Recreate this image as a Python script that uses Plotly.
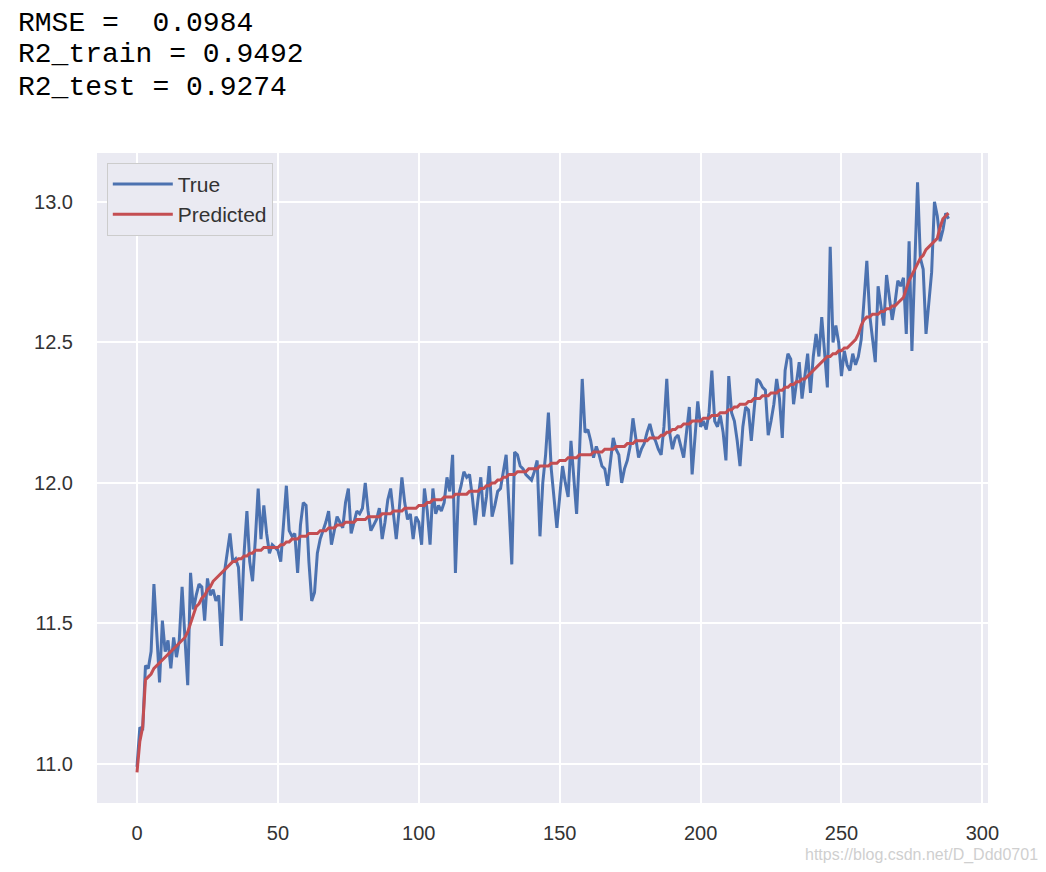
import plotly.graph_objects as go

# metrics printed above the chart
rmse = "0.0984"
r2_train = "0.9492"
r2_test = "0.9274"

# observed values (sorted by prediction)
y_true = [
    10.99, 11.13, 11.12, 11.35, 11.34, 11.40, 11.64, 11.45, 11.29, 11.51,
    11.40, 11.44, 11.34, 11.45, 11.38, 11.44, 11.63, 11.45, 11.28, 11.68,
    11.55, 11.60, 11.64, 11.63, 11.51, 11.66, 11.60, 11.62, 11.58, 11.60,
    11.42, 11.68, 11.75, 11.82, 11.72, 11.73, 11.70, 11.51, 11.75, 11.90,
    11.72, 11.65, 11.80, 11.98, 11.80, 11.92, 11.82, 11.75, 11.78, 11.77,
    11.76, 11.72, 11.85, 11.99, 11.83, 11.81, 11.82, 11.68, 11.85, 11.93,
    11.92, 11.72, 11.58, 11.61, 11.75, 11.80, 11.83, 11.86, 11.90, 11.78,
    11.83, 11.88, 11.86, 11.84, 11.93, 11.98, 11.82, 11.86, 11.90, 11.89,
    11.91, 12.00, 11.90, 11.83, 11.85, 11.87, 11.91, 11.80, 11.86, 11.94,
    11.98, 11.88, 11.80, 11.90, 12.02, 11.93, 11.87, 11.89, 11.80, 11.88,
    11.86, 11.78, 11.98, 11.90, 11.78, 11.98, 11.89, 11.92, 11.90, 11.93,
    12.02, 11.97, 12.10, 11.68, 11.95, 11.99, 12.04, 12.02, 12.03, 11.95,
    11.85, 11.94, 12.02, 11.88, 11.95, 12.06, 11.88, 11.92, 11.97, 11.98,
    12.04, 12.10, 11.92, 11.71, 12.11, 12.10, 12.06, 12.05, 12.03, 12.02,
    12.01, 12.04, 12.08, 11.81, 12.00, 12.10, 12.25, 12.05, 11.95, 11.84,
    11.95, 12.06, 12.00, 11.95, 12.15, 12.02, 11.89, 12.10, 12.37, 12.18,
    12.19, 12.15, 12.09, 12.13, 12.10, 12.06, 12.05, 11.99, 12.08, 12.16,
    12.12, 12.10, 12.00, 12.05, 12.08, 12.13, 12.23, 12.15, 12.09, 12.12,
    12.14, 12.18, 12.21, 12.17, 12.15, 12.12, 12.10, 12.20, 12.37, 12.18,
    12.12, 12.16, 12.17, 12.13, 12.09, 12.18, 12.27, 12.03, 12.15, 12.29,
    12.20, 12.22, 12.19, 12.25, 12.40, 12.22, 12.20, 12.24, 12.18, 12.08,
    12.38, 12.25, 12.22, 12.15, 12.06, 12.20, 12.27, 12.26, 12.15, 12.25,
    12.37, 12.36, 12.34, 12.33, 12.17, 12.22, 12.28, 12.37, 12.30, 12.16,
    12.40, 12.46, 12.44, 12.28, 12.36, 12.43, 12.30, 12.38, 12.46, 12.32,
    12.45, 12.53, 12.45, 12.59, 12.45, 12.34, 12.84, 12.50, 12.56, 12.50,
    12.38, 12.47, 12.42, 12.40, 12.46, 12.42, 12.45, 12.51, 12.65, 12.79,
    12.60, 12.52, 12.43, 12.70, 12.62, 12.56, 12.74, 12.65, 12.58, 12.64,
    12.72, 12.70, 12.73, 12.53, 12.86, 12.47, 12.75, 13.07, 12.80, 12.76,
    12.53, 12.65, 12.75, 13.00, 12.95, 12.86, 12.90, 12.96, 12.94,
]

# model predictions
y_pred = [
    10.97, 11.08, 11.13, 11.30, 11.31, 11.32, 11.34, 11.35, 11.36, 11.37,
    11.38, 11.39, 11.40, 11.41, 11.42, 11.43, 11.44, 11.45, 11.47, 11.50,
    11.53, 11.56, 11.57, 11.59, 11.60, 11.62, 11.63, 11.65, 11.66, 11.67,
    11.68, 11.69, 11.70, 11.71, 11.72, 11.72, 11.73, 11.73, 11.74, 11.74,
    11.75, 11.75, 11.76, 11.76, 11.76, 11.77, 11.77, 11.77, 11.77, 11.77,
    11.77, 11.78, 11.78, 11.79, 11.79, 11.80, 11.80, 11.80, 11.81, 11.81,
    11.81, 11.82, 11.82, 11.82, 11.82, 11.83, 11.83, 11.83, 11.84, 11.84,
    11.84, 11.85, 11.85, 11.85, 11.86, 11.86, 11.86, 11.86, 11.87, 11.87,
    11.87, 11.87, 11.88, 11.88, 11.88, 11.88, 11.88, 11.89, 11.89, 11.89,
    11.89, 11.90, 11.90, 11.90, 11.90, 11.91, 11.91, 11.91, 11.91, 11.91,
    11.92, 11.92, 11.92, 11.93, 11.93, 11.94, 11.94, 11.94, 11.94, 11.95,
    11.95, 11.95, 11.95, 11.96, 11.96, 11.96, 11.96, 11.96, 11.97, 11.97,
    11.97, 11.97, 11.98, 11.98, 11.99, 11.99, 12.00, 12.00, 12.01, 12.01,
    12.02, 12.02, 12.03, 12.03, 12.03, 12.04, 12.04, 12.04, 12.04, 12.05,
    12.05, 12.05, 12.05, 12.06, 12.06, 12.06, 12.06, 12.07, 12.07, 12.07,
    12.08, 12.08, 12.08, 12.09, 12.09, 12.09, 12.09, 12.10, 12.10, 12.10,
    12.10, 12.10, 12.11, 12.11, 12.11, 12.11, 12.12, 12.12, 12.12, 12.12,
    12.13, 12.13, 12.13, 12.13, 12.14, 12.14, 12.14, 12.15, 12.15, 12.15,
    12.15, 12.15, 12.16, 12.16, 12.16, 12.16, 12.17, 12.17, 12.18, 12.18,
    12.19, 12.19, 12.20, 12.20, 12.21, 12.21, 12.21, 12.22, 12.22, 12.22,
    12.22, 12.23, 12.23, 12.23, 12.24, 12.24, 12.24, 12.25, 12.25, 12.25,
    12.26, 12.26, 12.27, 12.27, 12.28, 12.28, 12.28, 12.29, 12.29, 12.30,
    12.30, 12.30, 12.31, 12.31, 12.31, 12.32, 12.32, 12.32, 12.33, 12.33,
    12.34, 12.34, 12.35, 12.35, 12.36, 12.36, 12.37, 12.37, 12.38, 12.39,
    12.40, 12.41, 12.42, 12.43, 12.44, 12.45, 12.45, 12.46, 12.46, 12.47,
    12.47, 12.48, 12.48, 12.49, 12.50, 12.51, 12.53, 12.56, 12.58, 12.59,
    12.59, 12.60, 12.60, 12.60, 12.61, 12.61, 12.62, 12.62, 12.63, 12.63,
    12.64, 12.65, 12.66, 12.69, 12.72, 12.74, 12.76, 12.78, 12.80, 12.81,
    12.83, 12.84, 12.85, 12.86, 12.87, 12.91, 12.94, 12.95, 12.96,
]

x_ticks = [0, 50, 100, 150, 200, 250, 300]
y_ticks = [11.0, 11.5, 12.0, 12.5, 13.0]

fig = go.Figure()
fig.add_trace(go.Scatter(x=list(range(len(y_true))), y=y_true, mode="lines",
                         name="True", legendgroup="t",
                         line=dict(color="#4C72B0", width=3)))
fig.add_trace(go.Scatter(x=list(range(len(y_pred))), y=y_pred, mode="lines",
                         name="Predicted", legendgroup="p",
                         line=dict(color="#C44E52", width=3)))

nb = "\u00a0"
header_lines = [f"RMSE{nb}={nb}{nb}{rmse}",
                f"R2_train{nb}={nb}{r2_train}",
                f"R2_test{nb}={nb}{r2_test}"]
header_y = [1.1985, 1.1523, 1.1015]

mono = dict(family="Liberation Mono, Courier New, monospace", size=28, color="black")
notes = [dict(text=t, xref="paper", yref="paper", x=-0.091, y=yy,
              xanchor="left", yanchor="middle", showarrow=False, font=mono)
         for t, yy in zip(header_lines, header_y)]
notes.append(dict(text="https://blog.csdn.net/D_Ddd0701", xref="paper", yref="paper",
                  x=1.058, y=-0.08, xanchor="right", yanchor="middle",
                  showarrow=False, font=dict(size=16, color="#CFCFCF")))

fig.update_layout(
    width=1046, height=872,
    margin=dict(l=89, r=66, t=145, b=77),
    paper_bgcolor="white",
    plot_bgcolor="#EAEAF2",
    font=dict(family="Liberation Sans, Arial, sans-serif", size=20, color="#333333"),
    legend=dict(x=0.011, y=0.985, xanchor="left", yanchor="top",
                bgcolor="#EAEAF2", bordercolor="#CCCCCC", borderwidth=1,
                itemwidth=60, tracegroupgap=0,
                font=dict(size=21, color="#333333")),
    xaxis=dict(range=[-14.2, 302], tickvals=x_ticks, showgrid=True,
               gridcolor="white", gridwidth=1.5, zeroline=False,
               showline=False, ticks="", ticklabelstandoff=16),
    yaxis=dict(range=[10.861, 13.174], tickvals=y_ticks, tickformat=".1f",
               showgrid=True, gridcolor="white", gridwidth=1.5, zeroline=False,
               showline=False, ticks="", ticklabelstandoff=23),
    annotations=notes,
)

fig.write_html("out.html")
